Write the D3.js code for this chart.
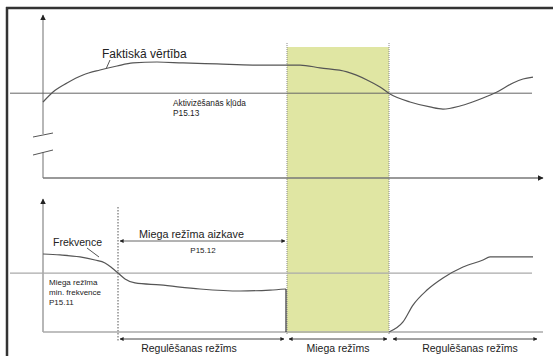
<!DOCTYPE html>
<html>
<head>
<meta charset="utf-8">
<script src="https://cdn.jsdelivr.net/npm/d3@7"></script>
<style>
  body { margin: 0; background: #fff; }
  text { font-family: "Liberation Sans", Arial, sans-serif; fill: #222; }
</style>
</head>
<body>
<div id="chart"></div>
<script>
// time runs 0..100, values 0..100 in each panel
const actualTime = [0, 2, 4.8, 8, 11.4, 14.8, 18, 22.8, 28, 34.8, 42, 51.4, 55.4, 60.8, 64.8, 67.4, 69.4, 73.4, 77.4, 80, 83.4, 88, 90.8, 94, 96, 98];
const actualValue = [47.5, 53.8, 59.4, 64.4, 67.5, 70, 71.9, 72.5, 71.9, 71.3, 70.6, 70.6, 68.8, 66.3, 61.3, 56.9, 52.5, 47.5, 44.4, 43.1, 45, 50, 53.8, 59.4, 61.9, 63.1];
const wakeLevel = 53;

const freqTimeA = [0, 3.4, 7.4, 10.4, 12.4, 13.8, 15, 16.4, 18.4, 23.4, 31.4, 39.4, 45.4, 48.6];
const freqValueA = [58.2, 57.5, 56, 53.7, 51.5, 47.8, 44, 39.6, 36.6, 35.1, 32.1, 30.6, 31.3, 32.1];
const freqTimeB = [69.2, 72, 74, 76.8, 80, 84, 88, 89.4, 98];
const freqValueB = [0, 7.5, 20.1, 31.3, 40.3, 48.5, 53.7, 56, 56];
const minFreqLevel = 44;

const delayStart = 15;
const sleepStart = 48.8;
const sleepEnd = 69.2;

const modeFrom = [15.4, 49.2, 70];
const modeTo = [48.2, 68.8, 98.8];
const modeLabels = ["Regulēšanas režīms", "Miega režīms", "Regulēšanas režīms"];

const refSpan = [-6.6, 97.8];

const width = 553, height = 356;
const svg = d3.select("#chart").append("svg")
  .attr("width", width).attr("height", height);

const defs = svg.append("defs");
defs.append("marker").attr("id", "arr")
  .attr("viewBox", "0 0 10 10").attr("refX", 9).attr("refY", 5)
  .attr("markerWidth", 4).attr("markerHeight", 4).attr("orient", "auto-start-reverse")
  .append("path").attr("d", "M0,0L10,5L0,10z").attr("fill", "#222");

const x = d3.scaleLinear().domain([0, 100]).range([43, 543]);
const yTop = d3.scaleLinear().domain([0, 100]).range([178, 18]);
const yBot = d3.scaleLinear().domain([0, 100]).range([332, 198]);

// frame
svg.append("line").attr("x1", 6).attr("x2", width).attr("y1", 8).attr("y2", 8)
  .attr("stroke", "#333").attr("stroke-width", 2.5);
svg.append("line").attr("x1", 7).attr("x2", 7).attr("y1", 7).attr("y2", height)
  .attr("stroke", "#333").attr("stroke-width", 2.5);

// sleep band
svg.append("rect")
  .attr("x", x(sleepStart)).attr("width", x(sleepEnd) - x(sleepStart))
  .attr("y", 47).attr("height", 333 - 47)
  .attr("fill", "#e0e6a3");
[sleepStart, sleepEnd].forEach(t => {
  svg.append("line").attr("x1", x(t)).attr("x2", x(t)).attr("y1", 43).attr("y2", 334)
    .attr("stroke", "#888").attr("stroke-dasharray", "1,1");
});
svg.append("line").attr("x1", x(delayStart)).attr("x2", x(delayStart)).attr("y1", 207).attr("y2", 341)
  .attr("stroke", "#555").attr("stroke-dasharray", "1.5,1.5");

// top panel axes
const axisCol = "#999";
svg.append("line").attr("x1", x(0)).attr("x2", x(0)).attr("y1", 134).attr("y2", 15)
  .attr("stroke", axisCol).attr("stroke-width", 1.4).attr("marker-end", "url(#arr)");
svg.append("line").attr("x1", x(0)).attr("x2", x(0)).attr("y1", 152).attr("y2", 178)
  .attr("stroke", axisCol).attr("stroke-width", 1.4);
[[137, 133], [155, 150]].forEach(([a, b]) => {
  svg.append("line").attr("x1", 33).attr("x2", 53).attr("y1", a).attr("y2", b)
    .attr("stroke", "#555").attr("stroke-width", 1);
});
svg.append("line").attr("x1", x(0)).attr("x2", x(100)).attr("y1", yTop(0)).attr("y2", yTop(0))
  .attr("stroke", "#777").attr("stroke-width", 1.4).attr("marker-end", "url(#arr)");
svg.append("line").attr("x1", x(refSpan[0])).attr("x2", x(refSpan[1]))
  .attr("y1", yTop(wakeLevel)).attr("y2", yTop(wakeLevel))
  .attr("stroke", "#666").attr("stroke-width", 1);

// bottom panel axes
svg.append("line").attr("x1", x(0)).attr("x2", x(0)).attr("y1", yBot(0)).attr("y2", 199)
  .attr("stroke", axisCol).attr("stroke-width", 1.4).attr("marker-end", "url(#arr)");
svg.append("line").attr("x1", x(0)).attr("x2", x(100)).attr("y1", yBot(0)).attr("y2", yBot(0))
  .attr("stroke", "#aaa").attr("stroke-width", 1.4);
svg.append("line").attr("x1", x(refSpan[0])).attr("x2", x(refSpan[1]))
  .attr("y1", yBot(minFreqLevel)).attr("y2", yBot(minFreqLevel))
  .attr("stroke", "#aaa").attr("stroke-width", 1.2);

// curves
const curveCol = "#555";
const lineTop = d3.line().x(d => x(d[0])).y(d => yTop(d[1])).curve(d3.curveMonotoneX);
const lineBot = d3.line().x(d => x(d[0])).y(d => yBot(d[1])).curve(d3.curveMonotoneX);
svg.append("path").attr("d", lineTop(d3.zip(actualTime, actualValue)))
  .attr("fill", "none").attr("stroke", curveCol).attr("stroke-width", 1.2);
svg.append("path").attr("d", lineBot(d3.zip(freqTimeA, freqValueA)))
  .attr("fill", "none").attr("stroke", curveCol).attr("stroke-width", 1.2);
const lastA = freqTimeA.length - 1;
svg.append("line").attr("x1", x(freqTimeA[lastA])).attr("x2", x(freqTimeA[lastA]))
  .attr("y1", yBot(freqValueA[lastA])).attr("y2", yBot(0))
  .attr("stroke", "#333").attr("stroke-width", 1.2);
svg.append("path").attr("d", lineBot(d3.zip(freqTimeB, freqValueB)))
  .attr("fill", "none").attr("stroke", curveCol).attr("stroke-width", 1.2);

// labels top
svg.append("text").attr("x", 102).attr("y", 58).attr("font-size", 12).text("Faktiskā vērtība");
svg.append("line").attr("x1", 110).attr("y1", 60).attr("x2", 106).attr("y2", 69)
  .attr("stroke", "#555");
svg.append("text").attr("x", 173).attr("y", 106).attr("font-size", 8.3).text("Aktivizēšanās kļūda");
svg.append("text").attr("x", 173).attr("y", 116).attr("font-size", 8.3).text("P15.13");

// labels bottom
svg.append("text").attr("x", 53).attr("y", 246).attr("font-size", 10.5).text("Frekvence");
svg.append("line").attr("x1", 87).attr("y1", 248).attr("x2", 99).attr("y2", 257)
  .attr("stroke", "#555");
["Miega režīma", "min. frekvence", "P15.11"].forEach((s, i) => {
  svg.append("text").attr("x", 49).attr("y", 285 + i * 10).attr("font-size", 8).text(s);
});

svg.append("line").attr("x1", x(delayStart) + 2).attr("x2", x(sleepStart) - 2)
  .attr("y1", 241).attr("y2", 241).attr("stroke", "#666").attr("stroke-width", 1)
  .attr("marker-start", "url(#arr)").attr("marker-end", "url(#arr)");
svg.append("text").attr("x", 139).attr("y", 238).attr("font-size", 10.8).text("Miega režīma aizkave");
svg.append("text").attr("x", 203).attr("y", 253).attr("font-size", 8).attr("text-anchor", "middle").text("P15.12");

// mode arrows
modeLabels.forEach((lab, i) => {
  svg.append("line").attr("x1", x(modeFrom[i])).attr("x2", x(modeTo[i]))
    .attr("y1", 339).attr("y2", 339).attr("stroke", "#444").attr("stroke-width", 1)
    .attr("marker-start", "url(#arr)").attr("marker-end", "url(#arr)");
});
const labelX = [189, 338, 470];
modeLabels.forEach((lab, i) => {
  svg.append("text").attr("x", labelX[i]).attr("y", 352).attr("font-size", 10.5)
    .attr("text-anchor", "middle").text(lab);
});
</script>
</body>
</html>
